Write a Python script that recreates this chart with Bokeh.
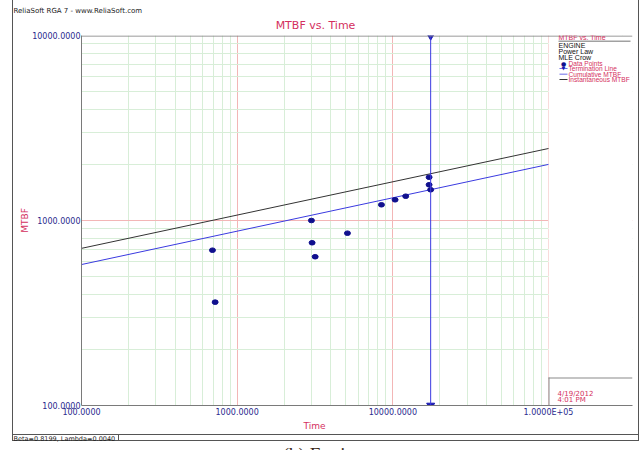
from math import pi
from bokeh.plotting import figure
from bokeh.models import Label, BoxAnnotation, FixedTicker, Range1d, Span
from bokeh.embed import file_html
from bokeh.resources import INLINE

# ---- data ----
time_pts = [694, 722, 3000, 3030, 3170, 5110, 8450, 10340, 12100, 17100, 17100, 17500]
mtbf_pts = [691, 362, 1000, 758, 637, 854, 1216, 1294, 1353, 1714, 1560, 1466]
line_time = [100, 100000]
inst_mtbf = [707, 2450]
cum_mtbf = [578, 2010]
term_time = 17500

x_major = [100, 1000, 10000, 100000]
x_labels = ["100.0000", "1000.0000", "10000.0000", "1.0000E+05"]
y_major = [100, 1000, 10000]
y_labels = ["100.0000", "1000.0000", "10000.0000"]
info_lines = ["ENGINE", "Power Law", "MLE Crow"]
legend_items = ["Data Points", "Termination Line", "Cumulative MTBF", "Instantaneous MTBF"]

RED = "#d42f5e"
NAVY = "#2a2a8e"
BLUE = "#3a3ae0"
DOT = "#10108e"
FONT = "DejaVu Sans"

x_minor = [m * d for d in [100, 1000, 10000, 100000] for m in range(2, 10)]
y_minor = [m * d for d in [100, 1000] for m in range(2, 10)]

p = figure(width=642, height=450, x_axis_type="log", y_axis_type="log",
           x_range=Range1d(100, 346500), y_range=Range1d(100, 10000),
           output_backend="svg", toolbar_location=None,
           min_border_left=81, min_border_right=10, min_border_top=35, min_border_bottom=45)
p.outline_line_color = None
p.background_fill_color = "white"
p.border_fill_color = None

# decorative window frame lines (outside the plot frame), drawn as element background
frame_lines = [(12, 0, 1, 441), (638, 0, 1, 441), (12, 440, 627, 1), (12, 434, 627, 1), (118, 434, 1, 7)]
p.styles = {
    "background-color": "white",
    "background-image": ", ".join(["linear-gradient(#555555, #555555)"] * len(frame_lines)),
    "background-size": ", ".join(f"{w}px {h}px" for (_, _, w, h) in frame_lines),
    "background-position": ", ".join(f"{x}px {y}px" for (x, y, _, _) in frame_lines),
    "background-repeat": "no-repeat",
}

p.xaxis.ticker = FixedTicker(ticks=x_major, minor_ticks=x_minor)
p.yaxis.ticker = FixedTicker(ticks=y_major, minor_ticks=y_minor)
p.xaxis.major_label_overrides = dict(zip(x_major, x_labels))
p.yaxis.major_label_overrides = dict(zip(y_major, y_labels))
for ax in (p.xaxis, p.yaxis):
    ax.axis_line_color = "#7a7a7a"
    ax.major_tick_out = 0
    ax.major_tick_in = 0
    ax.minor_tick_out = 0
    ax.minor_tick_in = 0
    ax.major_label_text_font = FONT
    ax.major_label_text_font_size = "8px"
    ax.major_label_text_color = NAVY
p.xaxis.major_label_standoff = 2
p.yaxis.major_label_standoff = 1

for g in (p.xgrid, p.ygrid):
    g.grid_line_color = "#f3b6b6"
    g.minor_grid_line_color = "#d8eed8"

# white legend area to the right of 1e5
p.add_layout(BoxAnnotation(left=x_major[-1], fill_color="white", fill_alpha=1,
                           line_alpha=0, level="underlay"))

# fitted lines
p.line(line_time, inst_mtbf, color="#333333", line_width=1)
p.line(line_time, cum_mtbf, color=BLUE, line_width=1)

# termination line
p.add_layout(Span(location=term_time, dimension="height", line_color=BLUE, line_width=1))
p.scatter([term_time, term_time], [y_major[-1], y_major[0]], marker="inverted_triangle",
          size=8, color="#1818b0")

# data points
p.ellipse(time_pts, mtbf_pts, width=6, height=4.6, width_units="screen",
          height_units="screen", color=DOT)

FX, FY = 81, 405  # canvas pixel of frame bottom-left


def lab(text, rx, ry, size, color, align="left", baseline="middle", font=FONT,
        angle=0.0, place=None):
    lbl = Label(x=rx, y=ry, x_units="canvas", y_units="canvas", text=text,
                text_font=font, text_font_size=f"{size}px", text_color=color,
                text_align=align, text_baseline=baseline, angle=angle)
    if place is None:
        p.add_layout(lbl)
    else:
        p.add_layout(lbl, place)


def box(rx0, ry0, rx1, ry1, color="#555555"):
    p.add_layout(BoxAnnotation(left=rx0 - FX, right=rx1 - FX, top=FY - ry0, bottom=FY - ry1,
                               left_units="screen", right_units="screen",
                               top_units="screen", bottom_units="screen",
                               fill_color=color, fill_alpha=1, line_alpha=0))


# texts outside the plot frame (side panels, so they are not clipped)
lab("ReliaSoft RGA 7 - www.ReliaSoft.com", 13, 10.5, 7, "#222222", place="above")
lab("MTBF vs. Time", 315, 25, 11, RED, align="center", place="above")
lab("Beta=0.8199, Lambda=0.0040", 13, 438, 6.5, "#222222", place="above")
lab("MTBF", 24, 220, 9, RED, align="center", angle=pi / 2, place="left")
lab("Time", 314, 425, 9, RED, align="center", place="below")
lab("(b)  Engine", 325, 443, 19, "#3b2a1a", align="center", baseline="top",
    font="Liberation Serif", place="below")

# top border line of the plot area
box(81, 35, 632, 36, "#7a7a7a")

# date box
lab("4/19/2012", 557, 393, 7, RED)
lab("4:01 PM", 557, 399.5, 7, RED)
box(548, 377, 549, 405, "#8a8a8a")
box(548, 377, 632, 378, "#8a8a8a")

# legend
LF = "Liberation Sans"
lab("MTBF vs. Time", 558, 36.7, 7, RED, font=LF)
box(558, 40.3, 630, 41.1, "#444444")
for t, ry in zip(info_lines, [45, 51, 56.8]):
    lab(t, 558, ry, 7, "#111111", font=LF)
rows = [62.8, 68.2, 73.6, 79.0]
for t, ry in zip(legend_items, rows):
    lab(t, 568, ry, 6.6, RED, font=LF)
lab("\u25CF", 563, rows[0], 6, DOT, align="center")
box(559, rows[1] - 0.4, 567, rows[1] + 0.4, BLUE)
lab("\u25BC", 563, rows[1] - 0.5, 5, "#1818b0", align="center")
box(559, rows[2] - 0.4, 567, rows[2] + 0.4, BLUE)
box(559, rows[3] - 0.4, 567, rows[3] + 0.4, "#333333")

open("out.html", "w").write(file_html(p, INLINE))
